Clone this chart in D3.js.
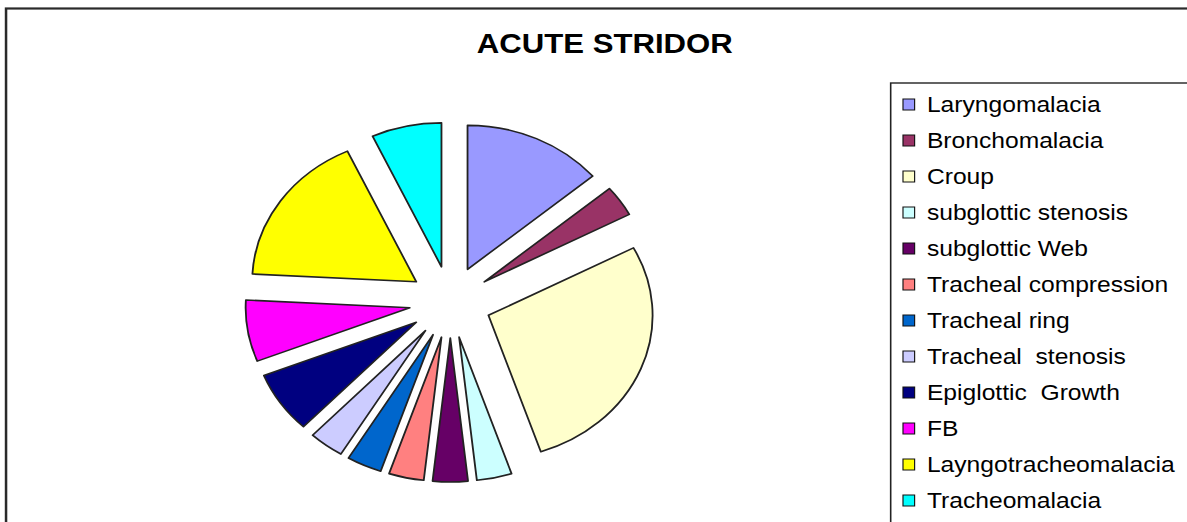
<!DOCTYPE html>
<html><head><meta charset="utf-8">
<script src="https://cdn.jsdelivr.net/npm/d3@7"></script>
<style>
html,body{margin:0;padding:0;background:#fff;}
svg{display:block;}
text{font-family:Arial,"Liberation Sans",sans-serif;white-space:pre;}
</style></head>
<body><svg id="chart" width="1187" height="522"></svg>
<script>
const title = "ACUTE STRIDOR";
const categories = ["Laryngomalacia","Bronchomalacia","Croup","subglottic stenosis","subglottic Web","Tracheal compression","Tracheal ring","Tracheal  stenosis","Epiglottic  Growth","FB","Layngotracheomalacia","Tracheomalacia"];
const values = [4,1,8,1,1,1,1,1,2,2,5,2];
const colors = ["#9999FF","#993366","#FFFFCC","#CCFFFF","#660066","#FF8080","#0066CC","#CCCCFF","#000080","#FF00FF","#FFFF00","#00FFFF"];

const W = 1187, H = 522, sx = 1.14;
const VW = W / sx;
const svg = d3.select("#chart")
  .attr("viewBox", `0 0 ${VW} ${H}`)
  .attr("preserveAspectRatio", "none");

svg.append("rect").attr("x", 0).attr("y", 0).attr("width", VW).attr("height", H).attr("fill", "#fff");
// outer chart border
svg.append("rect").attr("x", 5.3).attr("y", 8.5).attr("width", VW + 20).attr("height", H + 20)
  .attr("fill", "none").attr("stroke", "#2a2a2a").attr("stroke-width", 2.2);

svg.append("text").attr("x", 530.5).attr("y", 53.5).attr("text-anchor", "middle")
  .attr("font-size", 27.3).attr("font-weight", "bold").attr("fill", "#000").text(title);

const cx = 395, cy = 302, r = 144, explode = 36;
const pie = d3.pie().sort(null).startAngle(0).endAngle(2 * Math.PI);
const arcs = pie(values);
const arc = d3.arc().innerRadius(0).outerRadius(r);
const g = svg.append("g").attr("transform", `translate(${cx},${cy})`);
g.selectAll("path").data(arcs).join("path")
  .attr("d", arc)
  .attr("transform", d => {
    const m = (d.startAngle + d.endAngle) / 2;
    return `translate(${explode * Math.sin(m)},${-explode * Math.cos(m)})`;
  })
  .attr("fill", (d, i) => colors[i])
  .attr("stroke", "#222").attr("stroke-width", 1.6).attr("stroke-linejoin", "round");

// legend
const lx = 781.3, ly = 83, rowH = 36;
svg.append("rect").attr("x", lx).attr("y", ly).attr("width", VW).attr("height", H)
  .attr("fill", "#fff").attr("stroke", "#222").attr("stroke-width", 1.4);
const items = svg.append("g").selectAll("g").data(categories).join("g")
  .attr("transform", (d, i) => `translate(${lx + 10.8},${ly + 21.5 + i * rowH})`);
items.append("rect").attr("x", 0).attr("y", -5.5).attr("width", 10.2).attr("height", 11)
  .attr("fill", (d, i) => colors[i]).attr("stroke", "#111").attr("stroke-width", 1);
items.append("text").attr("x", 21).attr("y", 7.5).attr("font-size", 21.6).attr("fill", "#000").text(d => d);
</script></body></html>
